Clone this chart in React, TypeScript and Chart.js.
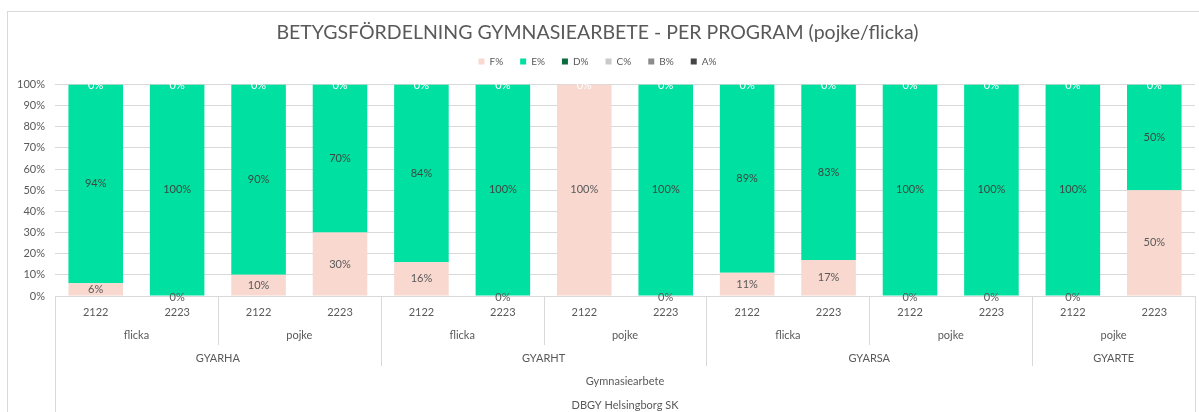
import React, { useEffect, useRef } from "react";
import { Chart, registerables } from "chart.js";

Chart.register(...registerables);

const years = ["2122", "2223", "2122", "2223", "2122", "2223", "2122", "2223", "2122", "2223", "2122", "2223", "2122", "2223"];
const genderLabels = ["flicka", "pojke", "flicka", "pojke", "flicka", "pojke", "pojke"];
const genderSpans = [2, 2, 2, 2, 2, 2, 2];
const programLabels = ["GYARHA", "GYARHT", "GYARSA", "GYARTE"];
const programSpans = [4, 4, 4, 2];
const level3Label = "Gymnasiearbete";
const level4Label = "DBGY Helsingborg SK";

const fValues = [6, 0, 10, 30, 16, 0, 100, 0, 11, 17, 0, 0, 0, 50];
const eValues = [94, 100, 90, 70, 84, 100, 0, 100, 89, 83, 100, 100, 100, 50];
const dValues = [0, 0, 0, 0, 0, 0, 0, 0, 0, 0, 0, 0, 0, 0];
const cValues = [0, 0, 0, 0, 0, 0, 0, 0, 0, 0, 0, 0, 0, 0];
const bValues = [0, 0, 0, 0, 0, 0, 0, 0, 0, 0, 0, 0, 0, 0];
const aValues = [0, 0, 0, 0, 0, 0, 0, 0, 0, 0, 0, 0, 0, 0];

const seriesNames = ["F%", "E%", "D%", "C%", "B%", "A%"];
const yTicks = [0, 10, 20, 30, 40, 50, 60, 70, 80, 90, 100];

const FONT = "Lato, 'DejaVu Sans', sans-serif";
const TEXT = "#595959";
const LINE = "#D9D9D9";

export default function App() {
  const ref = useRef<HTMLCanvasElement | null>(null);

  useEffect(() => {
    document.body.style.margin = "0";
    const canvas = ref.current;
    if (!canvas) return;

    const colors = ["#F8D8CF", "#00E0A0", "#0B6B3F", "#C9C9C9", "#8C8C8C", "#454545"];
    const values = [fValues, eValues, dValues, cValues, bValues, aValues];

    const frame = {
      id: "frame",
      beforeDraw(chart: any) {
        const ctx = chart.ctx;
        ctx.save();
        ctx.strokeStyle = LINE;
        ctx.lineWidth = 1;
        ctx.strokeRect(7.5, 11.5, 1300, 600);
        ctx.restore();
      },
    };

    const legendSpace = {
      id: "legendSpace",
      beforeInit(chart: any) {
        const lg = chart.legend;
        if (!lg) return;
        const orig = lg.fit;
        lg.fit = function () {
          orig.call(this);
          this.height += 8;
        };
      },
    };

    const dataLabels = {
      id: "dataLabels",
      afterDatasetsDraw(chart: any) {
        const ctx = chart.ctx;
        ctx.save();
        ctx.font = `11px ${FONT}`;
        ctx.textAlign = "center";
        ctx.textBaseline = "middle";
        const drawn = new Set<string>();
        chart.data.datasets.forEach((ds: any, di: number) => {
          const meta = chart.getDatasetMeta(di);
          meta.data.forEach((el: any, i: number) => {
            const v = ds.data[i];
            let color = TEXT;
            if (di === 1) {
              if (v === 0) return;
              color = "#3A4742";
            } else if (di >= 2) {
              color = "#FFFFFF";
            }
            const y = v === 0 ? el.y + 1 : (el.y + el.base) / 2;
            const key = `${Math.round(el.x)}_${Math.round(y)}_${v}`;
            if (drawn.has(key)) return;
            drawn.add(key);
            ctx.fillStyle = color;
            ctx.fillText(`${v}%`, el.x, y);
          });
        });
        ctx.restore();
      },
    };

    const multiAxis = {
      id: "multiAxis",
      afterDraw(chart: any) {
        const ctx = chart.ctx;
        const xs = chart.scales.x;
        const area = chart.chartArea;
        const n = years.length;
        const w = (area.right - area.left) / n;
        const top = area.bottom;
        const H = chart.height;
        ctx.save();
        ctx.strokeStyle = LINE;
        ctx.lineWidth = 1;
        const vline = (x: number, y1: number, y2: number) => {
          const px = Math.round(x) + 0.5;
          ctx.beginPath();
          ctx.moveTo(px, y1);
          ctx.lineTo(px, y2);
          ctx.stroke();
        };
        vline(area.left, top, H);
        vline(area.right, top, H);

        ctx.fillStyle = TEXT;
        ctx.font = `11px ${FONT}`;
        ctx.textAlign = "center";
        ctx.textBaseline = "middle";

        let idx = 0;
        const progBounds = new Set<number>();
        let p = 0;
        programSpans.forEach((s) => {
          p += s;
          progBounds.add(p);
        });
        genderLabels.forEach((lab, gi) => {
          const s = genderSpans[gi];
          const x0 = xs.getPixelForValue(idx) - w / 2;
          const x1 = x0 + s * w;
          ctx.fillText(lab, (x0 + x1) / 2, top + 39);
          idx += s;
          if (idx < n && !progBounds.has(idx)) vline(x1, top, top + 49);
        });

        idx = 0;
        programLabels.forEach((lab, pi) => {
          const s = programSpans[pi];
          const x0 = xs.getPixelForValue(idx) - w / 2;
          const x1 = x0 + s * w;
          ctx.fillText(lab, (x0 + x1) / 2, top + 62);
          idx += s;
          if (idx < n) vline(x1, top, top + 70);
        });

        const cx = (area.left + area.right) / 2;
        ctx.fillText(level3Label, cx, top + 85);
        ctx.fillText(level4Label, cx, top + 109);
        ctx.restore();
      },
    };

    const chart = new Chart(canvas, {
      type: "bar",
      data: {
        labels: years,
        datasets: seriesNames.map((name, i) => ({
          label: name,
          data: values[i],
          backgroundColor: colors[i],
          borderWidth: 0,
          barPercentage: 0.67,
          categoryPercentage: 1,
        })),
      },
      options: {
        responsive: false,
        animation: false,
        layout: { padding: { left: 0, right: 4, top: 0, bottom: 0 } },
        plugins: {
          title: {
            display: true,
            text: "BETYGSFÖRDELNING GYMNASIEARBETE - PER PROGRAM (pojke/flicka)",
            color: TEXT,
            font: { family: FONT, size: 19.5, weight: "normal" },
            padding: { top: 21, bottom: -5 },
          },
          legend: {
            display: true,
            position: "top",
            labels: {
              boxWidth: 6,
              boxHeight: 6,
              color: TEXT,
              font: { family: FONT, size: 10 },
              padding: 17,
            },
          },
          tooltip: { enabled: false },
        },
        scales: {
          x: {
            stacked: true,
            offset: true,
            grid: { display: false, drawTicks: false },
            border: { display: true, color: LINE },
            ticks: {
              color: TEXT,
              font: { family: FONT, size: 11 },
              padding: 10,
              maxRotation: 0,
              autoSkip: false,
            },
            afterFit(scale: any) {
              scale.height = 116;
            },
          },
          y: {
            stacked: true,
            min: 0,
            max: 100,
            afterBuildTicks(scale: any) {
              scale.ticks = yTicks.map((v) => ({ value: v }));
            },
            grid: { color: LINE, drawTicks: false },
            border: { display: false },
            ticks: {
              color: TEXT,
              font: { family: FONT, size: 11 },
              padding: 10,
              callback: (v: any) => `${v}%`,
            },
            afterFit(scale: any) {
              scale.width = 55;
            },
          },
        },
      },
      plugins: [frame, legendSpace, dataLabels, multiAxis],
    });

    return () => chart.destroy();
  }, []);

  return <canvas ref={ref} width={1199} height={412} style={{ display: "block" }} />;
}
